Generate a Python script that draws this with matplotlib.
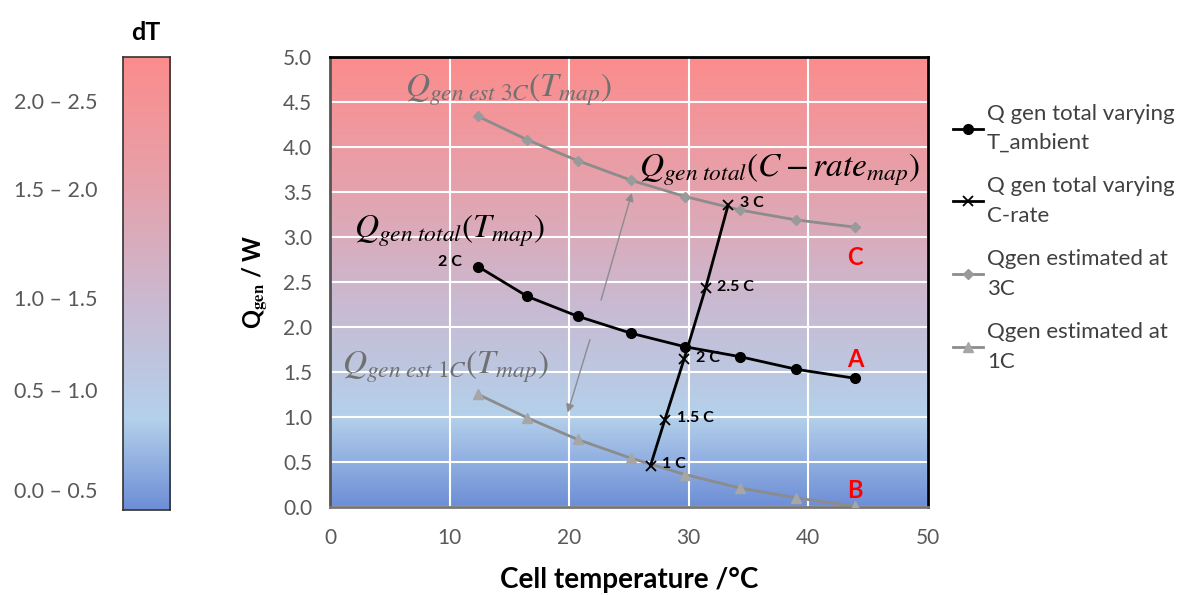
import matplotlib
matplotlib.use("Agg")
import matplotlib.pyplot as plt
import numpy as np
from matplotlib.colors import LinearSegmentedColormap

plt.rcParams['font.family'] = ['Lato', 'DejaVu Sans']
plt.rcParams['mathtext.fontset'] = 'stix'

# data
cell_temp = [12.4, 16.5, 20.7, 25.2, 29.7, 34.3, 39.0, 43.9]
q_total_T = [2.67, 2.34, 2.12, 1.93, 1.78, 1.67, 1.53, 1.43]
q_est_3C = [4.34, 4.08, 3.85, 3.63, 3.45, 3.30, 3.19, 3.11]
q_est_1C = [1.25, 0.99, 0.75, 0.54, 0.36, 0.21, 0.10, 0.01]

crate_temp = [26.8, 28.0, 29.6, 31.4, 33.3]
q_total_C = [0.46, 0.97, 1.64, 2.43, 3.36]
crate_labels = ['1 C', '1.5 C', '2 C', '2.5 C', '3 C']

dT_labels = ['0.0 – 0.5', '0.5 – 1.0', '1.0 – 1.5', '1.5 – 2.0', '2.0 – 2.5']
dT_ticks = [0.11, 0.66, 1.17, 1.77, 2.26]

# background gradient (blue -> mauve -> red)
cmap = LinearSegmentedColormap.from_list('dT', [
    (0.0, '#6D8ED6'), (0.2, '#B4D0EB'), (0.45, '#C9BAD2'),
    (0.72, '#E6A1AB'), (1.0, '#FC8C8C')])
grad = np.linspace(0, 1, 256).reshape(-1, 1)

fig = plt.figure(figsize=(11.79, 5.95), dpi=100)
ax = fig.add_axes([0.280, 0.148, 0.507, 0.756])
cax = fig.add_axes([0.104, 0.143, 0.040, 0.761])

# colour scale on the left
cax.imshow(grad, cmap=cmap, origin='lower', aspect='auto', extent=[0, 1, 0, 2.5])
cax.set_xticks([])
cax.set_yticks(dT_ticks)
cax.set_yticklabels(dT_labels, fontsize=15.5, color='#595959')
cax.tick_params(axis='y', length=0, pad=18)
for s in cax.spines.values():
    s.set_color('#333333')
    s.set_linewidth(1.2)
cax.set_title('dT', fontsize=18, fontweight='bold', pad=12)

# main plot
ax.imshow(grad, cmap=cmap, origin='lower', aspect='auto', extent=[0, 50, 0, 5], zorder=0)
ax.set_xlim(0, 50)
ax.set_ylim(0, 5)
ax.set_xticks(np.arange(0, 51, 10))
ax.set_yticks(np.arange(0, 5.01, 0.5))
ax.set_yticklabels([f'{v:.1f}' for v in np.arange(0, 5.01, 0.5)])
ax.grid(True, color='white', lw=1.5, zorder=1)
ax.tick_params(length=0, labelsize=15, labelcolor='#595959')
ax.tick_params(axis='x', pad=15)
ax.tick_params(axis='y', pad=13)
for s in ax.spines.values():
    s.set_color('black')
    s.set_linewidth(2)
ax.spines['left'].set_color('#555555')
ax.spines['bottom'].set_color('#777777')

ax.plot(cell_temp, q_total_T, color='black', lw=2, marker='o', ms=7,
        label='Q gen total varying\nT_ambient', zorder=4)
ax.plot(crate_temp, q_total_C, color='black', lw=2, marker='x', ms=7, mew=1.3,
        label='Q gen total varying\nC-rate', zorder=5)
ax.plot(cell_temp, q_est_3C, color='#8C8C8C', lw=2, marker='D', ms=5,
        mfc='#9A9A9A', mec='#9A9A9A', label='Qgen estimated at\n3C', zorder=3)
ax.plot(cell_temp, q_est_1C, color='#8C8C8C', lw=2, marker='^', ms=7,
        mfc='#A6A6A6', mec='#A6A6A6', label='Qgen estimated at\n1C', zorder=3)

ax.set_xlabel('Cell temperature /°C', fontsize=20, fontweight='bold', labelpad=14)
ax.set_ylabel(r'Q$_{\mathbf{gen}}$ / W', fontsize=17, fontweight='bold', labelpad=10)

# C-rate point labels
for xv, yv, lab in zip(crate_temp, q_total_C, crate_labels):
    ax.text(xv + 1.0, yv + 0.02, lab, fontsize=11.5, fontweight='bold', va='center')
ax.text(cell_temp[0] - 1.4, q_total_T[0] + 0.05, '2 C', fontsize=11.5,
        fontweight='bold', ha='right', va='center')

# curve letters
ax.text(cell_temp[-1], 2.69, 'C', color='red', fontsize=17, fontweight='bold', ha='center')
ax.text(cell_temp[-1], 1.55, 'A', color='red', fontsize=17, fontweight='bold', ha='center')
ax.text(cell_temp[-1], 0.1, 'B', color='red', fontsize=17, fontweight='bold', ha='center')

# formula labels
ax.text(6.3, 4.56, r'$Q_{gen\ est\ 3C}\left(T_{map}\right)$', fontsize=24, color='#707070')
ax.text(2.0, 3.0, r'$Q_{gen\ total}\left(T_{map}\right)$', fontsize=24, color='black')
ax.text(25.8, 3.67, r'$Q_{gen\ total}\left(C-rate_{map}\right)$', fontsize=24, color='black')
ax.text(1.0, 1.48, r'$Q_{gen\ est\ 1C}\left(T_{map}\right)$', fontsize=24, color='#707070')

ax.annotate('', xy=(25.3, 3.52), xytext=(22.6, 2.27),
            arrowprops=dict(arrowstyle='-|>', color='#8C8C8C', lw=1, mutation_scale=12))
ax.annotate('', xy=(19.8, 1.02), xytext=(21.8, 1.89),
            arrowprops=dict(arrowstyle='-|>', color='#8C8C8C', lw=1, mutation_scale=12))

leg = fig.legend(loc='upper left', bbox_to_anchor=(0.808, 0.826), frameon=False,
                 fontsize=16, handlelength=1.35, handletextpad=0.2, labelspacing=1.05,
                 borderpad=0, borderaxespad=0, labelcolor='#404040')
for t in leg.get_texts():
    t.set_linespacing(1.6)

fig.savefig('out.png', dpi=100)
